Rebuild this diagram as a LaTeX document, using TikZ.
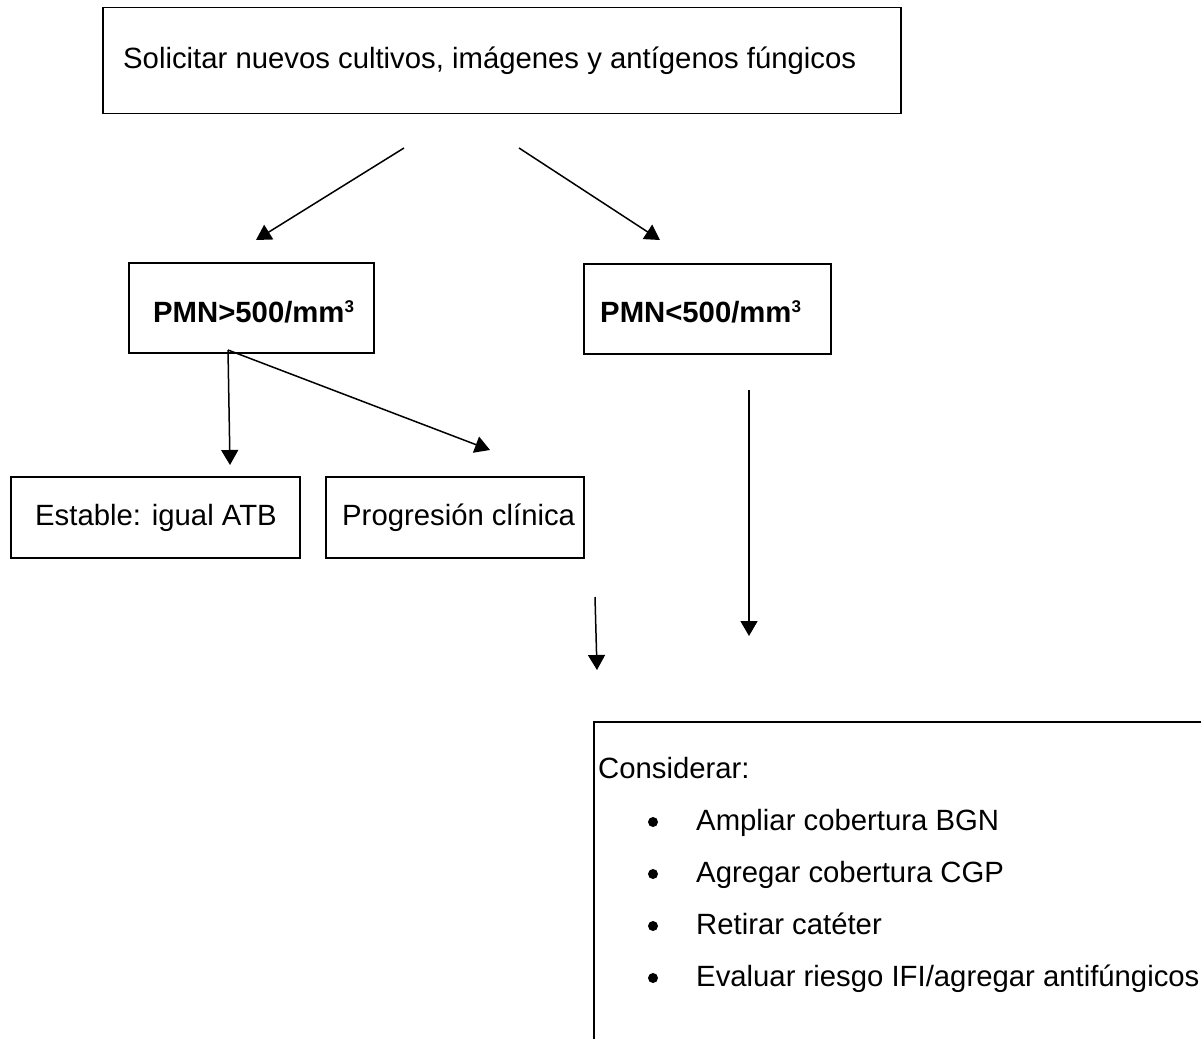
\documentclass[tikz,border=0pt]{standalone}
\usepackage{fontspec}
\setmainfont{Liberation Sans}
\usetikzlibrary{arrows.meta}
\newcommand{\supthree}{\raisebox{10pt}{\fontsize{17}{17}\selectfont 3}}
\tikzset{
  box/.style={draw=black, line width=1.5pt, rectangle, inner sep=0pt, anchor=north west},
  txt/.style={anchor=base west, inner sep=0pt, font=\fontsize{29.3}{35}\selectfont},
  btxt/.style={txt, font=\fontsize{29.3}{35}\selectfont\bfseries},
  arr/.style={line width=1.5pt, -{Triangle[width=17pt,length=15pt]}},
  bul/.style={circle, fill=black, inner sep=0pt, minimum size=10pt},
}
\begin{document}
\begin{tikzpicture}[x=1pt,y=-1pt]
\useasboundingbox (0,0) rectangle (1201,1038);
\clip (0,0) rectangle (1201,1038);
\fill[white] (0,0) rectangle (1201,1038);
% boxes
\node[box, minimum width=798pt, minimum height=106pt] (top) at (102,7) {};
\node[box, minimum width=245pt, minimum height=90pt] (pmnhi) at (128,262) {};
\node[box, minimum width=247pt, minimum height=90pt] (pmnlo) at (583,263) {};
\node[box, minimum width=289pt, minimum height=81pt] (est) at (10,476) {};
\node[box, minimum width=258pt, minimum height=81pt] (prog) at (325,476) {};
\node[box, minimum width=640pt, minimum height=360pt] (cons) at (593,721) {};
% texts
\node[txt] (toptext) at (123,69) {Solicitar nuevos cultivos, imágenes y antígenos fúngicos};
\node[btxt] (hitext) at (153,322) {PMN>500/mm\supthree};
\node[btxt] (lotext) at (600,322) {PMN<500/mm\supthree};
\node[txt] (esttext) at (35,525) {Estable: igual ATB};
\node[txt] (progtext) at (342,525) {Progresión clínica};
\node[txt] (constext) at (598,778) {Considerar:};
\node[bul] (b1) at (653,822) {};
\node[bul] (b2) at (653,874) {};
\node[bul] (b3) at (653,926) {};
\node[bul] (b4) at (653,978) {};
\node[txt] (i1) at (696,830) {Ampliar cobertura BGN};
\node[txt] (i2) at (696,882) {Agregar cobertura CGP};
\node[txt] (i3) at (696,934) {Retirar catéter};
\node[txt] (i4) at (696,986) {Evaluar riesgo IFI/agregar antifúngicos};
% connector ends
\coordinate (a1s) at (404,148);
\coordinate (a1e) at (256,240);
\coordinate (a2s) at (519,148);
\coordinate (a2e) at (660,240);
\coordinate (a3s) at (228,350);
\coordinate (a3e) at (230,465);
\coordinate (a4e) at (490,450);
\coordinate (a5s) at (749,390);
\coordinate (a5e) at (749,636);
\coordinate (a6s) at (595,597);
\coordinate (a6e) at (597,670);
\draw[arr] (a1s) -- (a1e);
\draw[arr] (a2s) -- (a2e);
\draw[arr] (a3s) -- (a3e);
\draw[arr] (a3s) -- (a4e);
\draw[arr] (a5s) -- (a5e);
\draw[arr] (a6s) -- (a6e);
\end{tikzpicture}
\end{document}
